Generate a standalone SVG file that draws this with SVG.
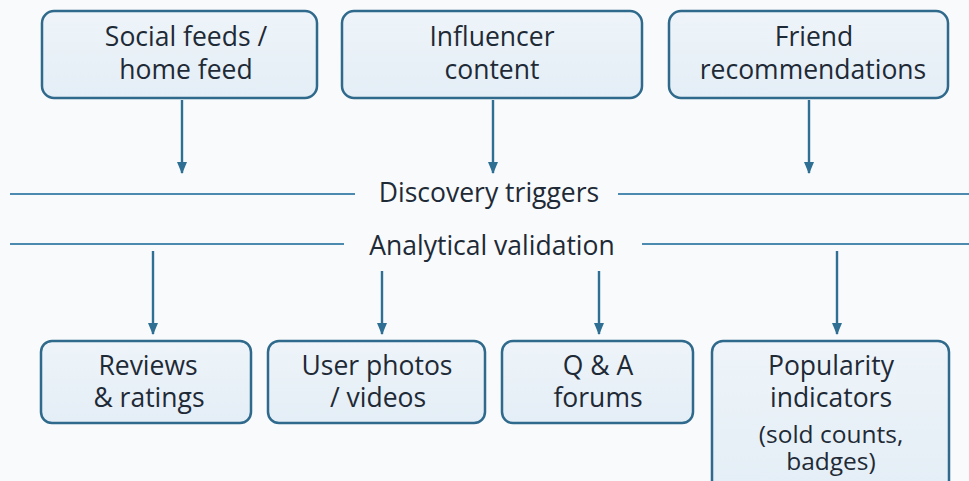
<svg xmlns="http://www.w3.org/2000/svg" width="969" height="481" viewBox="0 0 969 481">
<defs>
<linearGradient id="bg" x1="0" y1="0" x2="0" y2="1"><stop offset="0" stop-color="#eef4f9"/><stop offset="1" stop-color="#e4eef6"/></linearGradient>
<marker id="ah" viewBox="0 0 12 10" refX="11" refY="5" markerWidth="12" markerHeight="10" orient="auto" markerUnits="userSpaceOnUse"><path d="M0,0 L12,5 L0,10 z" fill="#2f6f93"/></marker>
</defs>
<style>
.box{fill:url(#bg);stroke:#2f6a8c;stroke-width:2.5}
.t{font-family:"Open Sans","Liberation Sans",sans-serif;font-size:26.5px;fill:#1e2a36;text-anchor:middle}
.s{font-size:24.5px}
.hl{stroke:#4d8ab0;stroke-width:2;fill:none}
.ar{stroke:#2f6f93;stroke-width:2.4;fill:none}
</style>
<rect width="969" height="481" fill="#f8fafc"/>
<g id="n1"><rect class="box" x="42" y="11" width="275" height="87" rx="12"/><text class="t" x="186" y="46">Social feeds /</text><text class="t" x="186" y="79">home feed</text></g>
<g id="n2"><rect class="box" x="342" y="11" width="300" height="87" rx="12"/><text class="t" x="492" y="46">Influencer</text><text class="t" x="492" y="79">content</text></g>
<g id="n3"><rect class="box" x="669" y="11" width="279" height="87" rx="12"/><text class="t" x="814" y="46">Friend</text><text class="t" x="813" y="79">recommendations</text></g>
<g id="b1"><text class="t" x="489" y="202">Discovery triggers</text></g>
<g id="b2"><text class="t" x="492" y="255">Analytical validation</text></g>
<g id="n4"><rect class="box" x="41" y="341" width="210" height="82" rx="11"/><text class="t" x="148" y="375">Reviews</text><text class="t" x="149" y="407">&amp; ratings</text></g>
<g id="n5"><rect class="box" x="268" y="341" width="217" height="82" rx="11"/><text class="t" x="377" y="375">User photos</text><text class="t" x="378" y="407">/ videos</text></g>
<g id="n6"><rect class="box" x="502" y="341" width="191" height="82" rx="11"/><text class="t" x="598" y="375">Q &amp; A</text><text class="t" x="598" y="407">forums</text></g>
<g id="n7"><rect class="box" x="712" y="341" width="237" height="152" rx="11"/><text class="t" x="831" y="375">Popularity</text><text class="t" x="831" y="407">indicators</text><text class="t s" x="831" y="443">(sold counts,</text><text class="t s" x="831" y="470">badges)</text></g>
<g id="edges">
<line class="hl" x1="10" y1="194" x2="355" y2="194"/><line class="hl" x1="618" y1="194" x2="969" y2="194"/>
<line class="hl" x1="10" y1="244" x2="344" y2="244"/><line class="hl" x1="642" y1="244" x2="969" y2="244"/>
<line class="ar" x1="182" y1="100" x2="182" y2="173" marker-end="url(#ah)"/>
<line class="ar" x1="493" y1="100" x2="493" y2="173" marker-end="url(#ah)"/>
<line class="ar" x1="809" y1="100" x2="809" y2="173" marker-end="url(#ah)"/>
<line class="ar" x1="153" y1="251" x2="153" y2="334" marker-end="url(#ah)"/>
<line class="ar" x1="382" y1="271" x2="382" y2="334" marker-end="url(#ah)"/>
<line class="ar" x1="599" y1="271" x2="599" y2="334" marker-end="url(#ah)"/>
<line class="ar" x1="837" y1="251" x2="837" y2="334" marker-end="url(#ah)"/>
</g>
</svg>
